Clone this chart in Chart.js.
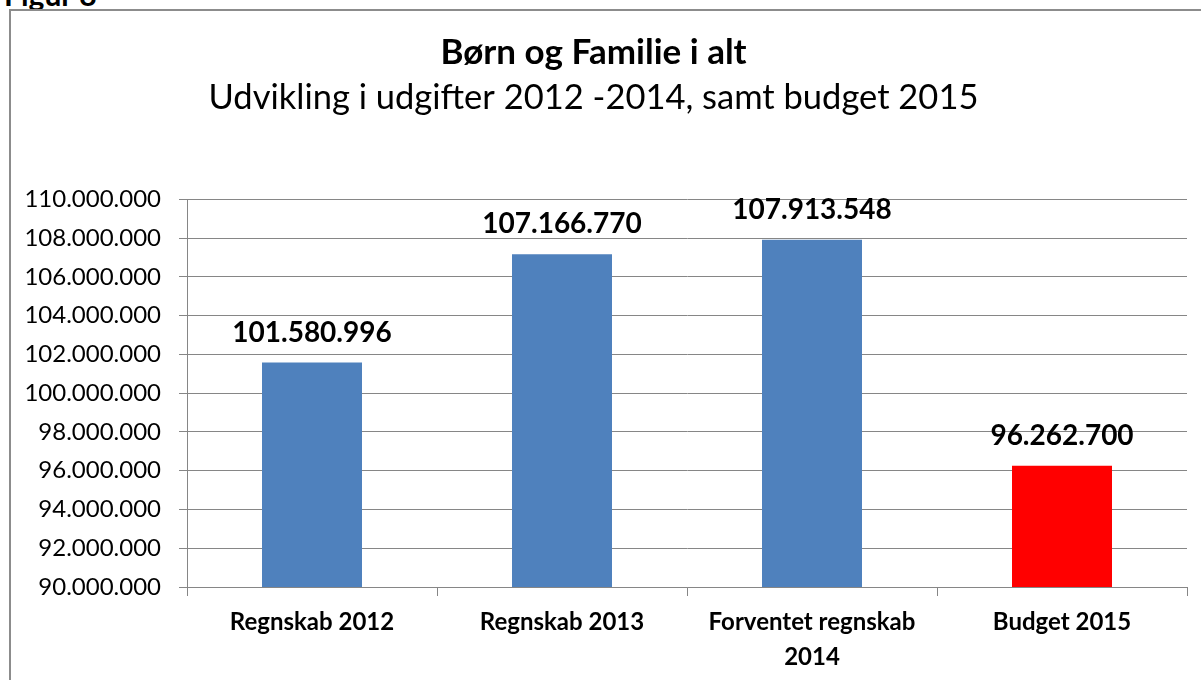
<!DOCTYPE html>
<html>
<head>
<meta charset="utf-8">
<script src="https://cdn.jsdelivr.net/npm/chart.js@4"></script>
<style>
  body { margin: 0; background: #fff; overflow: hidden; }
  #figur { position: absolute; left: 4px; top: -24px; font: bold 30px Lato, sans-serif; color: #000; }
  #ramme { position: absolute; left: 9px; top: 9px; width: 1300px; height: 800px; border: 2px solid #8c8c8c; }
  #wrap { position: absolute; left: 0; top: 0; width: 1201px; height: 680px; }
</style>
</head>
<body>
<div id="figur">Figur 8</div>
<div id="ramme"></div>
<div id="wrap"><canvas id="myChart"></canvas></div>
<script>
// Data til grafen
const kategorier = ['Regnskab 2012', 'Regnskab 2013', ['Forventet regnskab', '2014'], 'Budget 2015'];
const udgifter = [101580996, 107166770, 107913548, 96262700];
const farver = ['#4f81bd', '#4f81bd', '#4f81bd', '#ff0000'];
const yMin = 90000000;
const yMax = 110000000;
const yStep = 2000000;

// tal med punktum som tusindtalsseparator
function formatTal(v) {
    return String(Math.round(v)).replace(/\B(?=(\d{3})+(?!\d))/g, '.');
}

// skriver værdien over hver søjle
const vaerdiLabels = {
    id: 'vaerdiLabels',
    afterDatasetsDraw(chart) {
        const ctx = chart.ctx;
        const meta = chart.getDatasetMeta(0);
        ctx.save();
        ctx.font = 'bold 28px Lato, sans-serif';
        ctx.fillStyle = '#000';
        ctx.textAlign = 'center';
        ctx.textBaseline = 'middle';
        meta.data.forEach((bar, i) => {
            ctx.fillText(formatTal(udgifter[i]), bar.x, bar.y - 30);
        });
        ctx.restore();
    }
};

const config = {
    type: 'bar',
    data: {
        labels: kategorier,
        datasets: [{
            data: udgifter,
            backgroundColor: farver,
            categoryPercentage: 1,
            barPercentage: 0.4
        }]
    },
    options: {
        responsive: true,
        maintainAspectRatio: false,
        animation: false,
        layout: { padding: { left: 0, right: 14, top: 0, bottom: 0 } },
        plugins: {
            legend: { display: false },
            tooltip: { enabled: false },
            title: {
                display: true,
                text: 'Børn og Familie i alt',
                color: '#000',
                font: { family: 'Lato, sans-serif', size: 35, weight: 'bold', lineHeight: 1.2 },
                padding: { top: 32, bottom: 0 }
            },
            subtitle: {
                display: true,
                text: 'Udvikling i udgifter 2012 -2014, samt budget 2015',
                color: '#000',
                font: { family: 'Lato, sans-serif', size: 34.5, weight: 'normal', lineHeight: 1.2 },
                padding: { top: 3, bottom: 81 }
            }
        },
        scales: {
            x: {
                afterFit(scale) { scale.height = 93; },
                grid: {
                    offset: true,
                    drawOnChartArea: false,
                    drawTicks: true,
                    tickLength: 9,
                    color: '#868686'
                },
                border: { color: '#868686', width: 1 },
                ticks: {
                    color: '#000',
                    padding: 9,
                    maxRotation: 0,
                    autoSkip: false,
                    font: { family: 'Lato, sans-serif', size: 24, weight: 'bold', lineHeight: 1.45 }
                }
            },
            y: {
                min: yMin,
                max: yMax,
                afterFit(scale) { scale.width = 187; },
                grid: {
                    color: '#868686',
                    tickLength: 8
                },
                border: { color: '#868686', width: 1 },
                ticks: {
                    stepSize: yStep,
                    color: '#000',
                    padding: 18,
                    font: { family: 'Lato, sans-serif', size: 24 },
                    callback: (v) => formatTal(v)
                }
            }
        }
    },
    plugins: [vaerdiLabels]
};

const chartDOM = document.getElementById('myChart');
window.grafica = new Chart(chartDOM, config);
</script>
</body>
</html>
